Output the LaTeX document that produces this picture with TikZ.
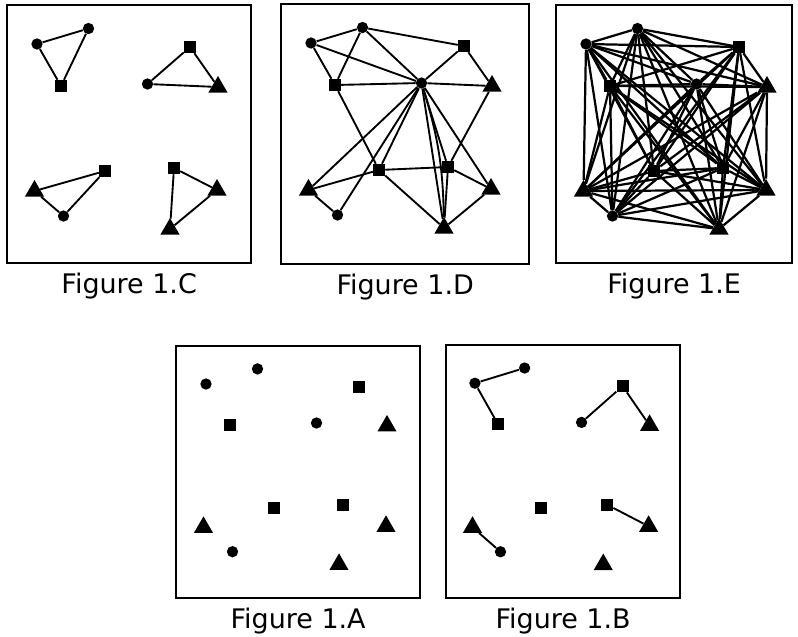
\documentclass[tikz,border=0pt]{standalone}
\usepackage{fontspec}
\setsansfont{DejaVu Sans}
\usetikzlibrary{positioning,shapes.geometric}
\tikzset{
  dot/.style={circle, fill=black, inner sep=0pt, minimum size=3.4mm},
  sqr/.style={rectangle, fill=black, inner sep=0pt, minimum size=3.6mm},
  tri/.style={regular polygon, regular polygon sides=3, fill=black, inner sep=0pt, minimum size=6.6mm},
  link/.style={draw=black, line width=1.6pt},
  panel/.style={draw=black, line width=2pt, anchor=north west, inner sep=0pt},
  figlbl/.style={font=\sffamily\fontsize{23}{27}\selectfont, inner sep=0pt, anchor=north}
}
% the twelve points, same layout in every panel
\newcommand{\placepoints}[1]{%
  \node[dot] (#1c1) at (31,40) {};
  \node[dot] (#1c2) at (82.5,24.5) {};
  \node[sqr] (#1s1) at (184,43) {};
  \node[sqr] (#1s2) at (55,82) {};
  \node[dot] (#1c3) at (141.5,80) {};
  \node[tri] (#1t1) at (212,83) {};
  \node[sqr] (#1s3) at (99,167) {};
  \node[sqr] (#1s4) at (168,164) {};
  \node[tri] (#1t2) at (28.5,187) {};
  \node[tri] (#1t3) at (211,186) {};
  \node[dot] (#1c4) at (57.5,212) {};
  \node[tri] (#1t4) at (164,225) {};
}

\begin{document}
\begin{tikzpicture}[x=0.3mm, y=-0.3mm]
  \useasboundingbox (0,0) rectangle (798,636);

  % Figure 1.C
  \begin{scope}[shift={(6,4)}]
    \node[panel, minimum width=73.2mm, minimum height=77.4mm] (cframe) at (0,0) {};
    \placepoints{c}
    \foreach \p/\q in {c1/c2, c2/s2, s2/c1, s1/c3, c3/t1, t1/s1,
                       t2/s3, s3/c4, c4/t2, s4/t3, t3/t4, t4/s4}
      \draw[link] (c\p) -- (c\q);
  \end{scope}
  \node[figlbl, below=2.6mm of cframe] (clbl) {Figure 1.C};

  % Figure 1.D
  \begin{scope}[shift={(280,3)}]
    \node[panel, minimum width=74.4mm, minimum height=78mm] (dframe) at (0,0) {};
    \placepoints{d}
    \foreach \p/\q in {c1/c2, c1/s2, c2/s2, c2/s1, c1/c3, c2/c3, s1/c3, s1/t1,
                       s2/c3, c3/t1, s2/s3, s3/t4, t1/s4, c3/t2, c3/c4, c3/s3,
                       c3/s4, c3/t4, c3/t3, s3/s4, s4/t3, s4/t4, t3/t4, t2/s3, t2/c4}
      \draw[link] (d\p) -- (d\q);
    \draw[link] (dc3) to[bend left=8] (dt4);
  \end{scope}
  \node[figlbl, below=2.6mm of dframe] (dlbl) {Figure 1.D};

  % Figure 1.E
  \begin{scope}[shift={(555,4)}]
    \node[panel, minimum width=70.8mm, minimum height=77.4mm] (eframe) at (0,0) {};
    \placepoints{e}
    \foreach \p [count=\i] in {c1,c2,s1,s2,c3,t1,s3,s4,t2,t3,c4,t4} {
      \foreach \q [count=\j] in {c1,c2,s1,s2,c3,t1,s3,s4,t2,t3,c4,t4} {
        \ifnum\i<\j \draw[link, line width=1.9pt] (e\p) -- (e\q); \fi
      }
    }
  \end{scope}
  \node[figlbl, below=2.6mm of eframe] (elbl) {Figure 1.E};

  % Figure 1.A
  \begin{scope}[shift={(175,345)}, yscale=0.975]
    \node[panel, minimum width=73.2mm, minimum height=75.6mm] (aframe) at (0,0) {};
    \placepoints{a}
  \end{scope}
  \node[figlbl, below=2.4mm of aframe] (albl) {Figure 1.A};

  % Figure 1.B
  \begin{scope}[shift={(445,344)}, xscale=0.965, yscale=0.98]
    \node[panel, minimum width=70.2mm, minimum height=75.9mm] (bframe) at (0,0) {};
    \placepoints{b}
    \foreach \p/\q in {c1/c2, c1/s2, c3/s1, s1/t1, t2/c4, s4/t3}
      \draw[link] (b\p) -- (b\q);
  \end{scope}
  \node[figlbl, below=2.4mm of bframe] (blbl) {Figure 1.B};
\end{tikzpicture}
\end{document}
